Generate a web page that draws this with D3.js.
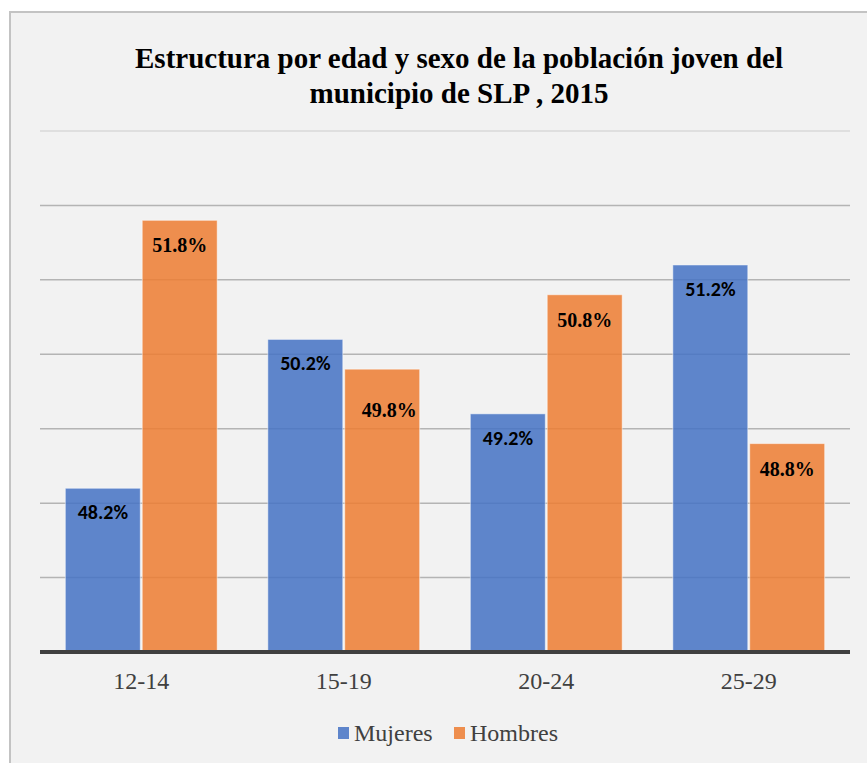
<!DOCTYPE html>
<meta charset="utf-8">
<script src="https://d3js.org/d3.v7.min.js"></script>
<style>
  body { margin: 0; background: #fff; }
</style>
<svg id="chart" width="867" height="763"></svg>
<script>

// data
var ageGroups = ["12-14", "15-19", "20-24", "25-29"];
var seriesNames = ["Mujeres", "Hombres"];
var mujeres = [48.2, 50.2, 49.2, 51.2];
var hombres = [51.8, 49.8, 50.8, 48.8];
var gridTicks = [46, 47, 48, 49, 50, 51, 52, 53];
var titleLines = ["Estructura por edad y sexo de la población joven del", "municipio de SLP , 2015"];

var colors = { Mujeres: "#4472c4", Hombres: "#ed7d31" };
var serif = "'Liberation Serif', 'Times New Roman', serif";
// one label was dragged by hand in the original
var labelNudge = { "15-19|Hombres": [7, 16] };

var svg = d3.select("#chart"),
  width = +svg.attr("width"),
  height = +svg.attr("height");

// background + frame
svg.append("rect")
  .attr("x", 10).attr("y", 12)
  .attr("width", width + 10).attr("height", height + 10)
  .attr("fill", "#f2f2f2")
  .attr("stroke", "#c3c3c3")
  .attr("stroke-width", 2);

// title
svg.append("g").selectAll("text")
  .data(titleLines)
  .enter().append("text")
    .attr("x", 459)
    .attr("y", function(d, i) { return 68 + i * 35; })
    .attr("text-anchor", "middle")
    .style("font-family", serif)
    .style("font-weight", "bold")
    .style("font-size", "29px")
    .attr("fill", "#000")
    .text(function(d) { return d; });

// scales
var x0 = d3.scaleBand()
  .domain(ageGroups)
  .range([40, 850])
  .paddingInner(0.25)
  .paddingOuter(0.125);

var x1 = d3.scaleBand()
  .domain(seriesNames)
  .range([0, x0.bandwidth()])
  .paddingInner(0.025);

var y = d3.scaleLinear()
  .domain([46, 53])
  .range([652, 131]);

// gridlines
svg.append("g").selectAll("line")
  .data(gridTicks.slice(1))
  .enter().append("line")
    .attr("x1", 40).attr("x2", 850)
    .attr("y1", function(d) { return y(d); })
    .attr("y2", function(d) { return y(d); })
    .attr("stroke", function(d) { return d === 53 ? "#d9d9d9" : "#b4b4b4"; })
    .attr("stroke-width", 1.5);

// rows for grouped bars
var rows = ageGroups.map(function(g, i) {
  return { group: g, values: [
    { group: g, key: "Mujeres", value: mujeres[i] },
    { group: g, key: "Hombres", value: hombres[i] }
  ] };
});

var groups = svg.append("g").selectAll("g")
  .data(rows)
  .enter().append("g")
    .attr("transform", function(d) { return "translate(" + x0(d.group) + ",0)"; });

groups.selectAll("rect")
  .data(function(d) { return d.values; })
  .enter().append("rect")
    .attr("x", function(d) { return x1(d.key); })
    .attr("y", function(d) { return y(d.value); })
    .attr("width", x1.bandwidth())
    .attr("height", function(d) { return y(46) - y(d.value); })
    .attr("fill", function(d) { return colors[d.key]; })
    .attr("fill-opacity", 0.85)
    .attr("stroke", "#ffffff")
    .attr("stroke-opacity", 0.5)
    .attr("stroke-width", 1);

// value labels (Mujeres in Calibri-like sans, Hombres in serif, as in the original)
function nudge(d, k) {
  var n = labelNudge[d.group + "|" + d.key];
  return n ? n[k] : 0;
}

groups.selectAll("text")
  .data(function(d) { return d.values; })
  .enter().append("text")
    .attr("x", function(d) { return x1(d.key) + x1.bandwidth() / 2 + nudge(d, 0); })
    .attr("y", function(d) { return y(d.value) + (d.key === "Mujeres" ? 31 : 32) + nudge(d, 1); })
    .attr("text-anchor", "middle")
    .style("font-family", function(d) {
      return d.key === "Mujeres" ? "Carlito, Calibri, 'Liberation Sans', sans-serif" : serif;
    })
    .style("font-weight", "bold")
    .style("font-size", "20px")
    .attr("fill", "#000")
    .text(function(d) { return d.value.toFixed(1) + "%"; });

// baseline
svg.append("line")
  .attr("x1", 40).attr("x2", 850)
  .attr("y1", y(46)).attr("y2", y(46))
  .attr("stroke", "#404040")
  .attr("stroke-width", 4);

// category labels
svg.append("g").selectAll("text")
  .data(ageGroups)
  .enter().append("text")
    .attr("x", function(d) { return x0(d) + x0.bandwidth() / 2; })
    .attr("y", 689)
    .attr("text-anchor", "middle")
    .style("font-family", serif)
    .style("font-size", "24px")
    .attr("fill", "#404040")
    .text(function(d) { return d; });

// legend
var legendX = [338, 454];
var legend = svg.append("g").selectAll("g")
  .data(seriesNames)
  .enter().append("g")
    .attr("transform", function(d, i) { return "translate(" + legendX[i] + ",727)"; });

legend.append("rect")
  .attr("width", 11).attr("height", 12)
  .attr("fill", function(d) { return colors[d]; })
  .attr("fill-opacity", 0.85);

legend.append("text")
  .attr("x", 16).attr("y", 14)
  .style("font-family", serif)
  .style("font-size", "24px")
  .attr("fill", "#404040")
  .text(function(d) { return d; });

</script>
